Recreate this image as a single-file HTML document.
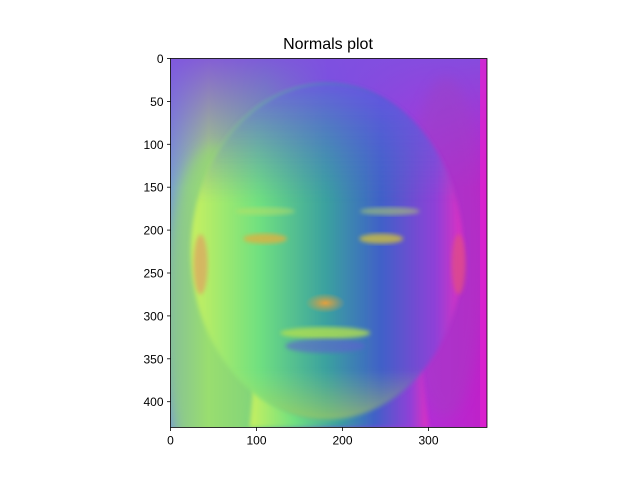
<!DOCTYPE html>
<html><head><meta charset="utf-8"><style>
body{margin:0;background:#fff;}
svg{display:block;font-family:"Liberation Sans","DejaVu Sans",sans-serif;}
</style></head><body>
<svg id="chart" width="640" height="480" viewBox="0 0 640 480">
<defs>
<linearGradient id="bgH" x1="0" x2="1" y1="0" y2="0">
<stop offset="0" stop-color="#7a9fd0"/><stop offset="0.12" stop-color="#a8e870"/><stop offset="0.3" stop-color="#60c890"/><stop offset="0.5" stop-color="#7050e0"/><stop offset="0.78" stop-color="#b030d8"/><stop offset="1" stop-color="#c020c8"/>
</linearGradient>
<linearGradient id="topV" x1="0" x2="0" y1="0" y2="1">
<stop offset="0" stop-color="#8050e0" stop-opacity="0.9"/><stop offset="0.35" stop-color="#8050e0" stop-opacity="0"/>
</linearGradient>
<linearGradient id="faceH" x1="0" x2="1" y1="0" y2="0">
<stop offset="0" stop-color="#c8f060"/><stop offset="0.25" stop-color="#70e080"/><stop offset="0.5" stop-color="#3aa0a0"/><stop offset="0.7" stop-color="#4060c8"/><stop offset="0.9" stop-color="#9040d8"/><stop offset="1" stop-color="#e030c0"/>
</linearGradient>
<linearGradient id="faceV" x1="0" x2="0" y1="0" y2="1">
<stop offset="0" stop-color="#7050e8" stop-opacity="0.85"/><stop offset="0.35" stop-color="#5070d0" stop-opacity="0"/><stop offset="0.85" stop-color="#c0e060" stop-opacity="0"/><stop offset="1" stop-color="#d0e040" stop-opacity="0.5"/>
</linearGradient>
<radialGradient id="nose" cx="0.5" cy="0.5" r="0.5">
<stop offset="0" stop-color="#e0a040"/><stop offset="1" stop-color="#e0a040" stop-opacity="0"/>
</radialGradient>
<filter id="soft" x="-20%" y="-20%" width="140%" height="140%"><feGaussianBlur stdDeviation="2"/></filter>
<filter id="soft6" x="-30%" y="-30%" width="160%" height="160%"><feGaussianBlur stdDeviation="6"/></filter>
<clipPath id="imgclip"><rect id="clipr"/></clipPath>
</defs>
<text x="328" y="49" font-size="16" text-anchor="middle" fill="#000">Normals plot</text>
<g id="img" clip-path="url(#imgclip)"></g>
<g id="axes"></g>
</svg>
<script>
const imgW = 368, imgH = 430;
const xTicks = [0, 100, 200, 300];
const yTicks = [0, 50, 100, 150, 200, 250, 300, 350, 400];
const X0 = 170.5, Y0 = 58.5, KX = 0.86, KY = 0.858;
const sx = v => X0 + v * KX;
const sy = v => Y0 + v * KY;
const NS = "http://www.w3.org/2000/svg";
function mk(tag, attrs, parent) {
  const e = document.createElementNS(NS, tag);
  for (const k in attrs) e.setAttribute(k, attrs[k]);
  parent.appendChild(e);
  return e;
}
const cr = document.getElementById('clipr');
cr.setAttribute('x', sx(0)); cr.setAttribute('y', sy(0));
cr.setAttribute('width', imgW * KX); cr.setAttribute('height', imgH * KY);
const img = document.getElementById('img');
const W = imgW * KX, H = imgH * KY;
mk('rect', {x: sx(0), y: sy(0), width: W, height: H, fill: 'url(#bgH)'}, img);
mk('rect', {x: sx(0), y: sy(0), width: W, height: H, fill: 'url(#topV)'}, img);
mk('ellipse', {cx: sx(50), cy: sy(300), rx: 50, ry: 170, fill: '#90d870', opacity: 0.6, filter: 'url(#soft6)'}, img);
mk('ellipse', {cx: sx(320), cy: sy(220), rx: 40, ry: 170, fill: '#a040c0', opacity: 0.4, filter: 'url(#soft6)'}, img);
// neck
mk('path', {d: `M${sx(92)},${sy(430)} L${sx(100)},${sy(340)} L${sx(290)},${sy(340)} L${sx(300)},${sy(430)} Z`, fill: 'url(#faceH)', filter: 'url(#soft)'}, img);
// face
mk('ellipse', {cx: sx(182), cy: sy(225), rx: 136, ry: 168, fill: 'url(#faceH)', filter: 'url(#soft)'}, img);
mk('ellipse', {cx: sx(182), cy: sy(225), rx: 136, ry: 168, fill: 'url(#faceV)', filter: 'url(#soft)'}, img);
// eyes
mk('ellipse', {cx: sx(110), cy: sy(210), rx: 22, ry: 5, fill: '#e0b040', opacity: 0.8, filter: 'url(#soft)'}, img);
mk('ellipse', {cx: sx(245), cy: sy(210), rx: 22, ry: 5, fill: '#d0c040', opacity: 0.8, filter: 'url(#soft)'}, img);
mk('ellipse', {cx: sx(110), cy: sy(178), rx: 30, ry: 4, fill: '#c0e060', opacity: 0.5, filter: 'url(#soft)'}, img);
mk('ellipse', {cx: sx(255), cy: sy(178), rx: 30, ry: 4, fill: '#c0e060', opacity: 0.5, filter: 'url(#soft)'}, img);
mk('ellipse', {cx: sx(180), cy: sy(285), rx: 20, ry: 10, fill: 'url(#nose)'}, img);
mk('ellipse', {cx: sx(180), cy: sy(320), rx: 45, ry: 6, fill: '#b0e050', opacity: 0.8, filter: 'url(#soft)'}, img);
mk('ellipse', {cx: sx(180), cy: sy(335), rx: 40, ry: 7, fill: '#6060d0', opacity: 0.6, filter: 'url(#soft)'}, img);
mk('ellipse', {cx: sx(35), cy: sy(240), rx: 7, ry: 30, fill: '#e0a060', opacity: 0.7, filter: 'url(#soft)'}, img);
mk('ellipse', {cx: sx(335), cy: sy(240), rx: 7, ry: 30, fill: '#e05080', opacity: 0.7, filter: 'url(#soft)'}, img);
mk('rect', {x: sx(360), y: sy(0), width: 8 * KX, height: H, fill: '#e020d0', opacity: 0.8}, img);

const axes = document.getElementById('axes');
const frame = mk('rect', {x: sx(0), y: sy(0), width: W, height: H, fill: 'none', stroke: '#000', 'stroke-width': 0.8}, axes);


xTicks.forEach(v => {
  const t = mk('line', {x1: sx(v), x2: sx(v), y1: sy(imgH), y2: sy(imgH) + 3.5, stroke: '#000', 'stroke-width': 0.8}, axes);
  
  
  const l = mk('text', {x: sx(v), y: sy(imgH) + 17, 'font-size': 12, 'text-anchor': 'middle'}, axes);
  l.textContent = v;
  
  
});
yTicks.forEach(v => {
  const t = mk('line', {x1: sx(0) - 3.5, x2: sx(0), y1: sy(v), y2: sy(v), stroke: '#000', 'stroke-width': 0.8}, axes);
  
  
  const l = mk('text', {x: sx(0) - 7, y: sy(v) + 4.5, 'font-size': 12, 'text-anchor': 'end'}, axes);
  l.textContent = v;
  
  
});
</script>
</body></html>
